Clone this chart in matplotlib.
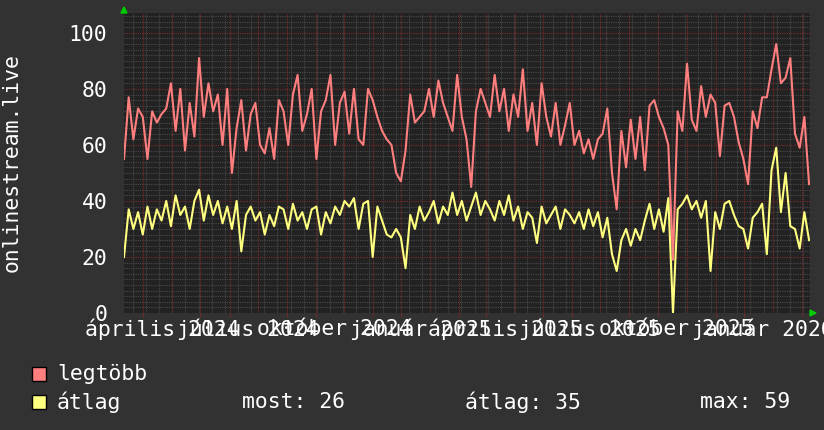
import numpy as np
import pandas as pd
import matplotlib
matplotlib.use("Agg")
import matplotlib.pyplot as plt
import matplotlib.transforms as mtransforms
from matplotlib.patches import Rectangle, Polygon

plt.rcParams['font.family'] = ['DejaVu Sans Mono', 'DejaVu Sans']

# time axis: one sample every 5 days
start = pd.Timestamp('2024-02-09 12:00')
end = pd.Timestamp('2026-02-09 12:00')
step_days = 5

# daily maximum viewers ("legtöbb")
legtobb = [55, 77, 62, 73, 70, 55, 72, 68, 71, 73,
           82, 65, 80, 58, 75, 63, 91, 70, 82, 72,
           78, 60, 80, 50, 66, 76, 58, 71, 75, 60,
           57, 66, 55, 76, 72, 60, 78, 85, 65, 71,
           80, 55, 72, 76, 85, 60, 75, 79, 64, 80,
           62, 60, 80, 76, 70, 65, 62, 60, 50, 47,
           58, 78, 68, 70, 72, 80, 70, 83, 75, 70,
           65, 85, 70, 62, 45, 72, 80, 75, 70, 85,
           72, 80, 65, 78, 70, 87, 65, 75, 60, 82,
           70, 63, 75, 60, 67, 75, 60, 65, 57, 62,
           55, 62, 64, 73, 50, 37, 65, 52, 69, 55,
           70, 51, 74, 76, 70, 66, 60, 19, 72, 65,
           89, 69, 65, 81, 70, 78, 75, 56, 74, 75,
           70, 61, 55, 46, 72, 66, 77, 77, 87, 96,
           82, 84, 91, 64, 59, 70, 46]

# daily average viewers ("átlag")
atlag = [20, 37, 30, 36, 28, 38, 30, 37, 33, 40,
         31, 42, 35, 38, 30, 40, 44, 33, 42, 35,
         40, 32, 38, 30, 40, 22, 35, 38, 33, 36,
         28, 35, 31, 38, 37, 30, 39, 33, 36, 30,
         37, 38, 28, 36, 32, 38, 35, 40, 38, 41,
         30, 39, 40, 20, 38, 33, 28, 27, 30, 27,
         16, 35, 30, 38, 33, 36, 40, 32, 38, 35,
         43, 35, 40, 33, 38, 43, 35, 40, 37, 33,
         40, 35, 42, 33, 38, 30, 36, 34, 25, 38,
         32, 35, 38, 30, 37, 35, 32, 36, 30, 37,
         31, 36, 27, 34, 21, 15, 26, 30, 24, 30,
         26, 33, 39, 30, 37, 29, 41, 0, 37, 39,
         42, 37, 40, 34, 40, 15, 36, 30, 39, 40,
         35, 31, 30, 23, 34, 36, 39, 21, 51, 59,
         36, 50, 31, 30, 23, 36, 26]

label_dates = ['2024-04-01', '2024-07-01', '2024-10-01', '2025-01-01',
               '2025-04-01', '2025-07-01', '2025-10-01', '2026-01-01']
label_texts = ['április 2024', 'július 2024', 'október 2024', 'január 2025',
               'április 2025', 'július 2025', 'október 2025', 'január 2026']

stat_most = 26
stat_atlag = 35
stat_max = 59

W, H = 824, 430
BG = '#323232'
CANVAS = '#222222'
FS = 15.4

dates = start + pd.to_timedelta(np.arange(len(legtobb)) * step_days, unit='D')

fig = plt.figure(figsize=(W / 100, H / 100), dpi=100, facecolor=BG)
ax = fig.add_axes([124 / W, 1 - 313 / H, (810 - 124) / W, (313 - 13) / H])
ax.set_facecolor(CANVAS)

# grid, rrdtool style (dotted)
for v in np.arange(2, 108, 2):
    if v % 20 == 0:
        ax.axhline(v, color='#7a2a2a', lw=0.8, ls=(0, (1, 1)), zorder=1)
    else:
        ax.axhline(v, color='#4a4a4a', lw=0.8, ls=(0, (1, 1)), zorder=0.5)
for d in pd.date_range('2024-02-19', end, freq='14D'):
    ax.axvline(d, color='#4a4a4a', lw=0.8, ls=(0, (1, 1)), zorder=0.5)
months = pd.date_range('2024-03-01', end, freq='MS')
for d in months:
    ax.axvline(d, color='#7a2a2a', lw=0.8, ls=(0, (1, 1)), zorder=1)

ax.plot(dates, legtobb, color='#ff7f7f', lw=1.5, zorder=3)
ax.plot(dates, atlag, color='#ffff80', lw=1.5, zorder=4)

ax.set_xlim(start, end)
ax.set_ylim(0, 107.1)
for s in ax.spines.values():
    s.set_visible(False)

ax.set_yticks(range(0, 101, 20))
ax.tick_params(axis='y', length=0, pad=12, labelsize=FS, labelcolor='white')
ax.set_xticks(pd.to_datetime(label_dates))
ax.set_xticklabels(label_texts)
ax.tick_params(axis='x', length=0, pad=4, labelsize=FS, labelcolor='white')
ax.set_xticks(months, minor=True)
ax.tick_params(axis='x', which='minor', length=3, color='#7a2a2a')

# rrdtool puts the labels a little left of their tick
shift = mtransforms.ScaledTranslation(-10 / 100, 0, fig.dpi_scale_trans)
for lab in ax.get_xticklabels():
    lab.set_transform(lab.get_transform() + shift)

# axis arrows
def px(x, y):
    return (x / W, 1 - y / H)

fig.patches.append(Polygon([px(121, 13), px(127, 13), px(124, 7)], closed=True,
                           transform=fig.transFigure, color='#00cc00'))
fig.patches.append(Polygon([px(810, 310), px(810, 316), px(816, 313)], closed=True,
                           transform=fig.transFigure, color='#00cc00'))

fig.text(12 / W, 1 - 163 / H, 'onlinestream.live', rotation=90, color='white',
         fontsize=FS, ha='center', va='center')

# legend
for yc, col in [(374, '#ff7f7f'), (402, '#ffff80')]:
    x0, y0 = px(32, yc + 7)
    fig.patches.append(Rectangle((x0, y0), 14 / W, 14 / H, transform=fig.transFigure,
                                 facecolor=col, edgecolor='black', lw=1))
fig.text(57 / W, 1 - 374 / H, 'legtöbb', color='white', fontsize=FS, va='center')
fig.text(57 / W, 1 - 402 / H, 'átlag', color='white', fontsize=FS, va='center')
fig.text(242 / W, 1 - 402 / H, 'most: %d' % stat_most, color='white', fontsize=FS, va='center')
fig.text(465 / W, 1 - 402 / H, 'átlag: %d' % stat_atlag, color='white', fontsize=FS, va='center')
fig.text(700 / W, 1 - 402 / H, 'max: %d' % stat_max, color='white', fontsize=FS, va='center')

fig.savefig('out.png', dpi=100, facecolor=BG)
